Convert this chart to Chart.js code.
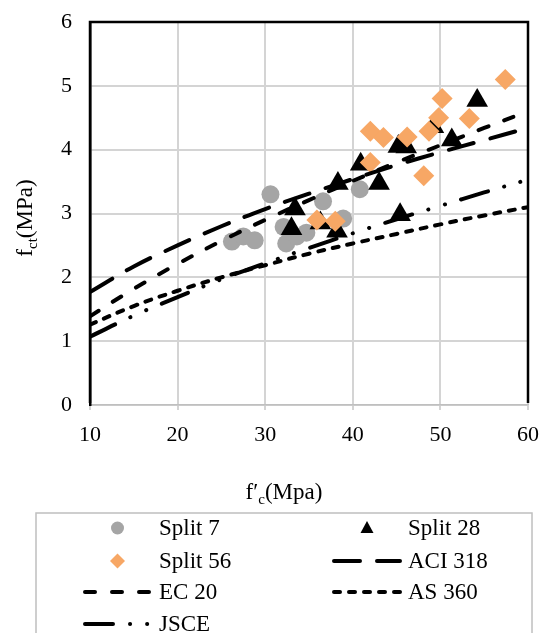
<!DOCTYPE html>
<html>
<head>
<meta charset="utf-8">
<script src="https://cdn.jsdelivr.net/npm/chart.js@4.4.0/dist/chart.umd.min.js"></script>
<style>
  html, body { margin: 0; padding: 0; background: #fff; }
  #grafica { display: block; }
</style>
</head>
<body>
<canvas id="grafica" width="547" height="633"></canvas>
<script>
const FUENTE = '"Liberation Serif", "Times New Roman", serif';

// Resultados de tracción indirecta [f'c, fct] a 7, 28 y 56 días
const split7 = [[26.2, 2.56], [27.5, 2.64], [28.8, 2.58], [30.6, 3.30], [32.1, 2.79], [32.4, 2.53],
  [33.6, 2.64], [34.7, 2.70], [36.6, 3.19], [38.9, 2.92], [40.8, 3.38]];
const split28 = [[33.4, 3.07], [33.0, 2.76], [36.3, 2.85], [38.2, 2.72], [38.3, 3.47], [40.9, 3.77],
  [43.0, 3.47], [45.2, 4.05], [46.1, 4.04], [45.4, 2.98], [49.2, 4.36], [51.3, 4.15], [54.2, 4.77]];
const split56 = [[35.9, 2.90], [38.0, 2.88], [42.0, 3.80], [42.0, 4.29], [43.5, 4.19], [46.2, 4.20],
  [48.1, 3.59], [48.7, 4.29], [49.8, 4.50], [50.2, 4.80], [53.3, 4.49], [57.4, 5.10]];

// Curvas de las normas, cada 5 MPa
const fcNormas = [10, 15, 20, 25, 30, 35, 40, 45, 50, 55, 60];
const aci318 = [1.77, 2.17, 2.50, 2.80, 3.07, 3.31, 3.54, 3.76, 3.96, 4.15, 4.34];
const ec20 = [1.39, 1.82, 2.21, 2.57, 2.90, 3.21, 3.51, 3.80, 4.07, 4.34, 4.60];
const as360 = [1.26, 1.55, 1.79, 2.00, 2.19, 2.37, 2.53, 2.68, 2.83, 2.97, 3.10];
const jsce = [1.07, 1.40, 1.69, 1.97, 2.22, 2.46, 2.69, 2.91, 3.12, 3.33, 3.53];

const ticksX = [10, 20, 30, 40, 50, 60];
const ticksY = [0, 1, 2, 3, 4, 5, 6];

const aPuntos = arr => arr.map(([x, y]) => ({ x, y }));
const aCurva = vals => fcNormas.map((x, i) => ({ x, y: vals[i] }));

function serieLinea(label, vals, dash, order) {
  return {
    label, data: aCurva(vals), showLine: true, pointRadius: 0, pointHoverRadius: 0,
    borderColor: '#000', borderWidth: 4, borderDash: dash, borderCapStyle: 'round',
    tension: 0.4, order
  };
}

const datasets = [
  { label: 'Split 7', data: aPuntos(split7), pointStyle: 'circle', pointRadius: 9,
    backgroundColor: '#A5A5A5', borderColor: '#A5A5A5', borderWidth: 0, order: 7 },
  { label: 'Split 28', data: aPuntos(split28), pointStyle: 'triangle', pointRadius: 12.5,
    backgroundColor: '#000', borderColor: '#000', borderWidth: 0, order: 6 },
  { label: 'Split 56', data: aPuntos(split56), pointStyle: 'rectRot', pointRadius: 10.5,
    backgroundColor: '#F7A765', borderColor: '#F7A765', borderWidth: 0, order: 5 },
  serieLinea('ACI 318', aci318, [26, 17], 4),
  serieLinea('EC 20', ec20, [10, 17], 3),
  serieLinea('AS 360', as360, [6, 9], 2),
  serieLinea('JSCE', jsce, [28, 17, 0.1, 17, 0.1, 17], 1)
];

// Marco negro, títulos con subíndice y leyenda en recuadro
const decoracion = {
  id: 'decoracion',
  beforeDatasetsDraw(chart) {
    const { ctx, chartArea: a } = chart;
    ctx.save();
    ctx.strokeStyle = '#000';
    ctx.lineWidth = 2.5;
    ctx.beginPath();
    ctx.moveTo(a.left, a.bottom - 2);
    ctx.lineTo(a.left, a.top);
    ctx.lineTo(a.right, a.top);
    ctx.lineTo(a.right, a.bottom - 2);
    ctx.stroke();
    ctx.restore();
  },
  afterDraw(chart) {
    const ctx = chart.ctx;
    ctx.save();
    ctx.fillStyle = '#000';
    ctx.textBaseline = 'alphabetic';
    const normal = '23px ' + FUENTE;
    const sub = '15px ' + FUENTE;

    // título eje Y: fct(MPa)
    ctx.font = normal;
    const wf = ctx.measureText('f').width;
    const wp = ctx.measureText('(MPa)').width;
    ctx.font = sub;
    const wct = ctx.measureText('ct').width;
    const totY = wf + wct + wp;
    ctx.translate(32, 218);
    ctx.rotate(-Math.PI / 2);
    let u = -totY / 2;
    ctx.font = normal; ctx.fillText('f', u, 0); u += wf;
    ctx.font = sub; ctx.fillText('ct', u, 5); u += wct;
    ctx.font = normal; ctx.fillText('(MPa)', u, 0);
    ctx.setTransform(1, 0, 0, 1, 0, 0);

    // título eje X: f′c(Mpa)
    ctx.font = normal;
    const wf2 = ctx.measureText('f′').width;
    const wm = ctx.measureText('(Mpa)').width;
    ctx.font = sub;
    const wc = ctx.measureText('c').width;
    let x = 284 - (wf2 + wc + wm) / 2;
    ctx.font = normal; ctx.fillText('f′', x, 499); x += wf2;
    ctx.font = sub; ctx.fillText('c', x, 504); x += wc;
    ctx.font = normal; ctx.fillText('(Mpa)', x, 499);

    // recuadro de la leyenda
    ctx.strokeStyle = '#BFBFBF';
    ctx.lineWidth = 1.5;
    ctx.strokeRect(36, 513, 496, 140);

    const cols = [{ x0: 83, x1: 152, tx: 159 }, { x0: 332, x1: 402, tx: 408 }];
    const filas = [528, 561, 592, 624];
    chart.data.datasets.forEach((ds, i) => {
      const c = cols[i % 2];
      const y = filas[Math.floor(i / 2)];
      const cx = (c.x0 + c.x1) / 2;
      ctx.save();
      if (ds.showLine) {
        ctx.strokeStyle = ds.borderColor;
        ctx.lineWidth = ds.borderWidth;
        ctx.lineCap = 'round';
        ctx.setLineDash(ds.borderDash);
        ctx.beginPath();
        ctx.moveTo(c.x0 + 2, y);
        ctx.lineTo(c.x1 - 2, y);
        ctx.stroke();
      } else {
        ctx.fillStyle = ds.backgroundColor;
        ctx.beginPath();
        if (ds.pointStyle === 'circle') {
          ctx.arc(cx, y, 6.5, 0, Math.PI * 2);
        } else if (ds.pointStyle === 'triangle') {
          ctx.moveTo(cx, y - 7); ctx.lineTo(cx + 6.5, y + 5); ctx.lineTo(cx - 6.5, y + 5);
        } else {
          ctx.moveTo(cx, y - 7.5); ctx.lineTo(cx + 7.5, y); ctx.lineTo(cx, y + 7.5); ctx.lineTo(cx - 7.5, y);
        }
        ctx.closePath();
        ctx.fill();
      }
      ctx.restore();
      ctx.font = normal;
      ctx.textBaseline = 'middle';
      ctx.fillStyle = '#000';
      ctx.fillText(ds.label, c.tx, y + 1);
    });
    ctx.restore();
  }
};

new Chart(document.getElementById('grafica'), {
  type: 'scatter',
  data: { datasets },
  plugins: [decoracion],
  options: {
    responsive: false,
    animation: false,
    devicePixelRatio: 1,
    layout: { padding: { top: 22, right: 19, left: 0, bottom: 0 } },
    plugins: { legend: { display: false }, tooltip: { enabled: false } },
    scales: {
      x: {
        type: 'linear', min: 10, max: 60,
        afterBuildTicks: s => { s.ticks = ticksX.map(v => ({ value: v })); },
        afterFit: s => { s.height = 228; s.paddingLeft = 0; s.paddingRight = 0; },
        grid: { color: '#D4D4D4', lineWidth: 2, tickLength: 5 },
        border: { color: '#BFBFBF', width: 1.5 },
        ticks: { font: { family: FUENTE, size: 22 }, color: '#000', padding: 12, maxRotation: 0 }
      },
      y: {
        type: 'linear', min: 0, max: 6,
        afterBuildTicks: s => { s.ticks = ticksY.map(v => ({ value: v })); },
        afterFit: s => { s.width = 90; s.paddingTop = 0; s.paddingBottom = 0; },
        grid: { color: '#D4D4D4', lineWidth: 2, drawTicks: false },
        border: { color: '#000', width: 2.5 },
        ticks: { font: { family: FUENTE, size: 22 }, color: '#000', padding: 18 }
      }
    }
  }
});
</script>
</body>
</html>
